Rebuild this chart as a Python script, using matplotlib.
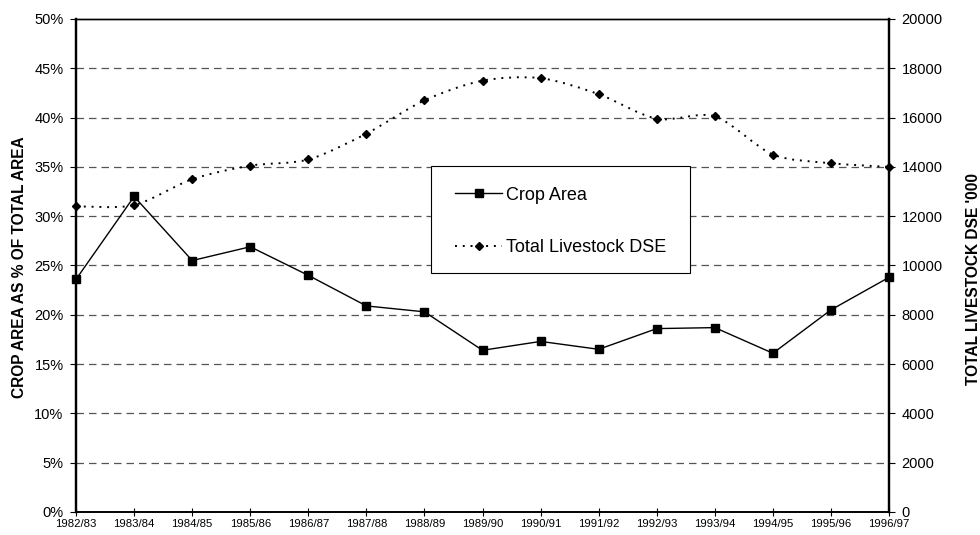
import numpy as np
import matplotlib.pyplot as plt
from matplotlib.lines import Line2D
from matplotlib.patches import PathPatch, Rectangle
from matplotlib.path import Path
from matplotlib.ticker import FuncFormatter, MultipleLocator

plt.rcParams['font.family'] = ['Liberation Sans', 'DejaVu Sans']

seasons = ['1982/83', '1983/84', '1984/85', '1985/86', '1986/87', '1987/88',
           '1988/89', '1989/90', '1990/91', '1991/92', '1992/93', '1993/94',
           '1994/95', '1995/96', '1996/97']
crop_pct = [23.6, 32.0, 25.5, 26.9, 24.0, 20.9, 20.3, 16.4, 17.3, 16.5,
            18.6, 18.7, 16.1, 20.5, 23.8]
livestock_dse = [12400, 12450, 13500, 14050, 14300, 15350, 16700, 17500,
                 17600, 16950, 15950, 16050, 14500, 14150, 14000]

x = np.arange(len(seasons))


def smooth_path(xs, ys, k=7.0):
    # Catmull-Rom style curve through the points, as cubic bezier segments
    p = np.column_stack([xs, ys]).astype(float)
    ext = np.vstack([p[0], p, p[-1]])
    verts = [p[0]]
    codes = [Path.MOVETO]
    for i in range(len(p) - 1):
        p0, p1, p2, p3 = ext[i], ext[i + 1], ext[i + 2], ext[i + 3]
        verts += [p1 + (p2 - p0) / k, p2 - (p3 - p1) / k, p2]
        codes += [Path.CURVE4] * 3
    return Path(verts, codes)


fig = plt.figure(figsize=(9.8, 5.35), dpi=100, facecolor='white')
ax = fig.add_axes([0.0776, 0.043, 0.8296, 0.9215])
ax2 = ax.twinx()

# dashed horizontal grid every 5%
for g in np.arange(5, 50, 5):
    ax.axhline(g, color='#555555', lw=0.9, ls=(0, (6, 4)), zorder=0)

ax.plot(x, crop_pct, color='black', lw=1.0, marker='s', ms=6,
        zorder=3, clip_on=False)

dse_style = dict(color='black', lw=1.4, ls=(0, (1, 3)))
ax2.add_patch(PathPatch(smooth_path(x, livestock_dse), fill=False,
                        zorder=3, clip_on=False, **dse_style))
ax2.plot(x, livestock_dse, ls='none', color='black', marker='D', ms=4.5,
         zorder=3, clip_on=False)

ax.set_xlim(0, len(seasons) - 1)
ax.set_ylim(0, 50)
ax2.set_ylim(0, 20000)

ax.yaxis.set_major_locator(MultipleLocator(5))
ax.yaxis.set_major_formatter(FuncFormatter(lambda v, p: f'{v:.0f}%'))
ax2.yaxis.set_major_locator(MultipleLocator(2000))
ax.set_xticks(x)
ax.set_xticklabels(seasons, fontsize=8.2)

ax.tick_params(axis='y', labelsize=10.5, length=4, width=0.8, direction='out', pad=5)
ax.tick_params(axis='x', length=6, width=0.8, direction='inout', pad=2)
ax2.tick_params(axis='y', labelsize=10.5, length=4, width=0.8, direction='out', pad=5)

for a in (ax, ax2):
    a.spines['left'].set_linewidth(1.6)
    a.spines['right'].set_linewidth(1.6)
    a.spines['bottom'].set_linewidth(1.2)
    a.spines['top'].set_linewidth(1.0)

ax.set_ylabel('CROP AREA AS % OF TOTAL AREA', fontsize=11.2, fontweight='bold')
ax.yaxis.set_label_coords(-0.060, 0.496)
ax2.set_ylabel("TOTAL LIVESTOCK DSE '000", fontsize=11.2, fontweight='bold')
ax2.yaxis.set_label_coords(1.095, 0.473)

# legend box
ax2.add_patch(Rectangle((0.4367, 0.4848), 0.3185, 0.217, transform=ax2.transAxes,
                        facecolor='white', edgecolor='black', lw=0.8, zorder=4))
handles = [Line2D([], [], color='black', lw=1.0, marker='s', ms=6),
           Line2D([], [], marker='D', ms=4.5, **dse_style)]
leg = ax2.legend(handles, ['Crop Area', 'Total Livestock DSE'], loc='upper left',
                 bbox_to_anchor=(0.4662, 0.660), fontsize=13, frameon=False,
                 borderpad=0, labelspacing=1.95, handlelength=2.6,
                 handletextpad=0.2, borderaxespad=0)
leg.set_zorder(5)

fig.savefig('out.png', dpi=100, facecolor='white')
